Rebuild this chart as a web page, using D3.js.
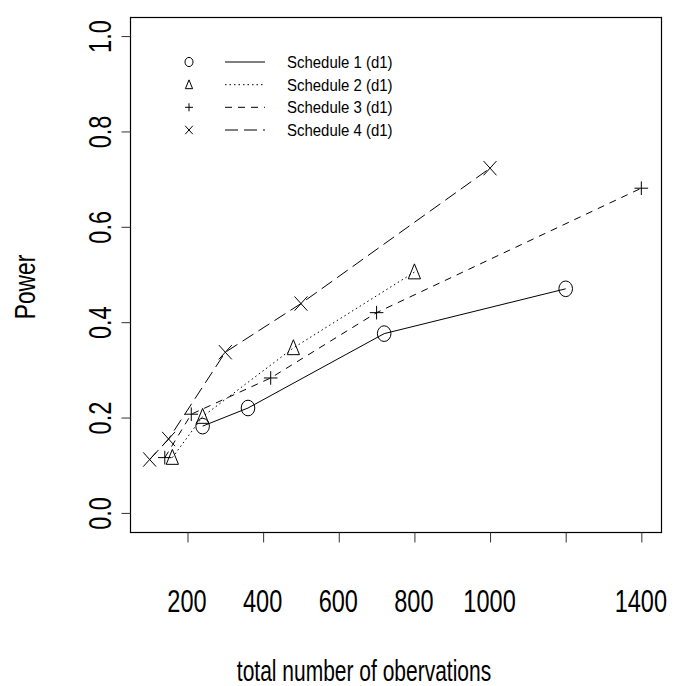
<!DOCTYPE html>
<html>
<head>
<meta charset="utf-8">
<script src="https://cdn.jsdelivr.net/npm/d3@7"></script>
<style>
  body { margin: 0; background: #fff; }
  text { font-family: "Liberation Sans", Arial, sans-serif; fill: #000; }
</style>
</head>
<body>
<div id="chart"></div>
<script>
// values
const sched1X = [240, 360, 720, 1200];
const sched1Y = [0.182, 0.220, 0.376, 0.470];
const sched2X = [160, 240, 480, 800];
const sched2Y = [0.116, 0.202, 0.346, 0.505];
const sched3X = [140, 210, 420, 700, 1400];
const sched3Y = [0.116, 0.207, 0.283, 0.420, 0.681];
const sched4X = [100, 150, 300, 500, 1000];
const sched4Y = [0.112, 0.155, 0.337, 0.439, 0.723];
const seriesNames = ['Schedule 1 (d1)', 'Schedule 2 (d1)', 'Schedule 3 (d1)', 'Schedule 4 (d1)'];
const xTicks = [200, 400, 600, 800, 1000, 1200, 1400];
const xTickLabels = ['200', '400', '600', '800', '1000', '', '1400'];
const yTicks = [0, 0.2, 0.4, 0.6, 0.8, 1.0];

const W = 676, H = 686;
const box = { left: 130, right: 661, top: 17, bottom: 532 };
const sx = 0.76; // narrow font look

const svg = d3.select('#chart').append('svg')
  .attr('width', W).attr('height', H);

// R style limits: data range plus 4% on each side
const xr = 1400 - 100;
const x = d3.scaleLinear()
  .domain([100 - 0.04 * xr, 1400 + 0.04 * xr])
  .range([box.left, box.right]);
const y = d3.scaleLinear()
  .domain([-0.04, 1.04])
  .range([box.bottom, box.top]);

svg.append('rect')
  .attr('x', box.left + 0.5).attr('y', box.top + 0.5)
  .attr('width', box.right - box.left).attr('height', box.bottom - box.top)
  .attr('fill', 'none').attr('stroke', '#000').attr('stroke-width', 1.2);

// x axis
const gx = svg.append('g')
  .attr('transform', 'translate(0,' + (box.bottom + 0.5) + ')')
  .call(d3.axisBottom(x).tickValues(xTicks).tickSize(10)
    .tickFormat((d, i) => xTickLabels[i]));
gx.select('.domain').remove();
gx.selectAll('line').attr('stroke', '#333');
gx.selectAll('text')
  .attr('y', 0).attr('dy', null)
  .attr('transform', 'translate(-1,79) scale(' + sx + ',1)')
  .style('font-size', '31px')
  .attr('font-family', null);

// y axis
const gy = svg.append('g')
  .attr('transform', 'translate(' + (box.left + 0.5) + ',0)')
  .call(d3.axisLeft(y).tickValues(yTicks).tickSize(9).tickFormat(d3.format('.1f')));
gy.select('.domain').remove();
gy.selectAll('line').attr('stroke', '#333');
gy.selectAll('text')
  .attr('x', 0).attr('dy', null)
  .attr('text-anchor', 'middle')
  .attr('transform', 'translate(-20,0) rotate(-90) scale(' + sx + ',1)')
  .style('font-size', '31px')
  .attr('font-family', null);

// axis titles
svg.append('text')
  .attr('transform', 'translate(364,681) scale(0.70,1)')
  .attr('text-anchor', 'middle')
  .style('font-size', '30px')
  .text('total number of obervations');

svg.append('text')
  .attr('transform', 'translate(35,287) rotate(-90) scale(' + sx + ',1)')
  .attr('text-anchor', 'middle')
  .style('font-size', '30px')
  .text('Power');

// symbols
function drawSymbol(g, type, cx, cy, r) {
  if (type === 0) {
    g.append('ellipse').attr('cx', cx).attr('cy', cy)
      .attr('rx', r).attr('ry', r * 1.15)
      .attr('fill', 'none').attr('stroke', '#000');
  } else if (type === 1) {
    const h = r * 2.2, w = r * 1.8;
    g.append('path')
      .attr('d', `M${cx},${cy - h * 0.55}L${cx + w / 2},${cy + h * 0.45}L${cx - w / 2},${cy + h * 0.45}Z`)
      .attr('fill', 'none').attr('stroke', '#000');
  } else if (type === 2) {
    g.append('path')
      .attr('d', `M${cx - r},${cy}H${cx + r}M${cx},${cy - r}V${cy + r}`)
      .attr('fill', 'none').attr('stroke', '#000');
  } else {
    const a = r * 0.95, b = r * 1.05;
    g.append('path')
      .attr('d', `M${cx - a},${cy - b}L${cx + a},${cy + b}M${cx - a},${cy + b}L${cx + a},${cy - b}`)
      .attr('fill', 'none').attr('stroke', '#000');
  }
}

const series = [
  { xs: sched1X, ys: sched1Y, dash: null },
  { xs: sched2X, ys: sched2Y, dash: '1.5,3' },
  { xs: sched3X, ys: sched3Y, dash: '7,6' },
  { xs: sched4X, ys: sched4Y, dash: '13,6' }
];

const line = d3.line().x(d => x(d[0])).y(d => y(d[1]));

series.forEach((s, k) => {
  const pts = s.xs.map((v, i) => [v, s.ys[i]]);
  svg.append('path')
    .datum(pts)
    .attr('d', line)
    .attr('fill', 'none')
    .attr('stroke', '#000')
    .attr('stroke-width', 1)
    .attr('stroke-dasharray', s.dash);
  const g = svg.append('g');
  pts.forEach(p => drawSymbol(g, k, x(p[0]), y(p[1]), 6.8));
});

// legend
const legY = [62, 84.7, 107.3, 130];
const leg = svg.append('g');
series.forEach((s, k) => {
  drawSymbol(leg, k, 189, legY[k], 4);
  leg.append('line')
    .attr('x1', 225).attr('x2', 265)
    .attr('y1', legY[k]).attr('y2', legY[k])
    .attr('stroke', '#000')
    .attr('stroke-dasharray', s.dash);
  leg.append('text')
    .attr('transform', 'translate(287,' + (legY[k] + 6) + ') scale(0.88,1)')
    .style('font-size', '17px')
    .text(seriesNames[k]);
});
</script>
</body>
</html>
